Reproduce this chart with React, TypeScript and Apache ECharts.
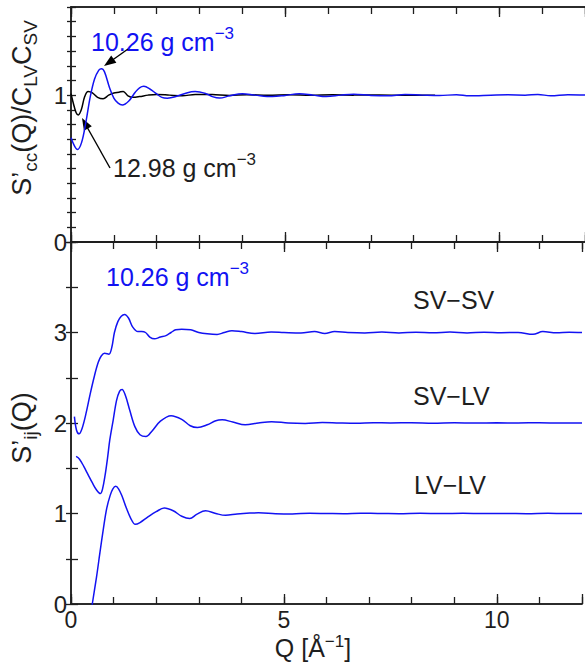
import React, { useEffect, useRef } from "react";
import * as echarts from "echarts";

// ---------- data ----------
// Top panel: S'cc(Q)/(C_LV C_SV)
const scc1298: [number, number][] = [
  [0, 1.01], [0.05, 0.95], [0.12, 0.88], [0.17, 0.865], [0.24, 0.9], [0.32, 0.99],
  [0.4, 1.025], [0.5, 1.015], [0.62, 0.985], [0.75, 0.975], [0.88, 1.0], [1.0, 1.015],
  [1.12, 1.02], [1.22, 1.025], [1.33, 0.995], [1.45, 0.985], [1.6, 0.99], [1.8, 1.0],
  [2.0, 1.005], [2.3, 1.0], [2.6, 0.995], [2.9, 1.005], [3.3, 1.004], [3.7, 0.998],
  [4.1, 1.003], [4.6, 0.999], [5.1, 1.002], [5.6, 0.999], [6.1, 1.002], [6.6, 1.0],
  [7.2, 1.001], [7.8, 0.999], [8.5, 1.0],
];
const scc1026: [number, number][] = [
  [0, 0.71], [0.08, 0.655], [0.15, 0.63], [0.25, 0.68], [0.35, 0.82], [0.45, 0.99],
  [0.55, 1.11], [0.65, 1.17], [0.71, 1.18], [0.78, 1.16], [0.9, 1.05], [1.0, 0.98],
  [1.1, 0.945], [1.2, 0.933], [1.35, 0.96], [1.5, 1.02], [1.6, 1.05], [1.7, 1.06],
  [1.85, 1.04], [2.0, 1.008], [2.12, 0.985], [2.25, 0.979], [2.45, 0.99], [2.7, 1.015],
  [2.9, 1.024], [3.15, 1.01], [3.3, 0.99], [3.47, 0.98], [3.7, 0.995], [4.0, 1.01],
  [4.3, 1.0], [4.7, 0.99], [5.0, 0.998], [5.33, 1.01], [5.65, 1.0], [5.96, 0.99],
  [6.3, 1.0], [6.6, 1.006], [7.0, 0.998], [7.4, 0.995], [7.8, 1.004], [8.2, 1.0],
  [8.6, 0.997], [9.0, 1.003], [9.3, 0.995], [9.8, 0.999], [10.2, 1.002], [10.6, 1.0],
  [10.9, 1.005], [11.2, 0.995], [11.6, 1.002], [12, 1.0],
];

// Bottom panel: S'ij(Q), offset curves
const svsv: [number, number][] = [
  [0.08, 2.07], [0.13, 1.92], [0.19, 1.88], [0.26, 1.94], [0.35, 2.1], [0.45, 2.32],
  [0.55, 2.52], [0.64, 2.67], [0.71, 2.74], [0.79, 2.77], [0.89, 2.76], [0.96, 2.84],
  [1.02, 3.0], [1.1, 3.12], [1.18, 3.18], [1.26, 3.2], [1.35, 3.16], [1.45, 3.06],
  [1.57, 3.01], [1.66, 3.01], [1.75, 3.0], [1.85, 2.95], [1.96, 2.93], [2.1, 2.95],
  [2.23, 2.965], [2.35, 3.0], [2.46, 3.03], [2.6, 3.035], [2.81, 3.03], [3.0, 3.0],
  [3.2, 2.985], [3.43, 2.978], [3.6, 3.0], [3.78, 3.02], [4.0, 3.01], [4.32, 2.99],
  [4.7, 3.005], [5.0, 3.0], [5.4, 2.995], [5.72, 3.01], [5.96, 2.99], [6.19, 3.01],
  [6.5, 3.0], [6.9, 2.995], [7.3, 3.005], [7.7, 2.995], [8.1, 3.003], [8.5, 2.997],
  [8.9, 3.005], [9.3, 2.995], [9.7, 3.004], [10.1, 2.998], [10.5, 3.0], [10.85, 2.98],
  [11.08, 3.01], [11.4, 2.998], [11.7, 3.003], [12, 3.0],
];
const svlv: [number, number][] = [
  [0.12, 1.63], [0.2, 1.6], [0.3, 1.52], [0.4, 1.43], [0.5, 1.34], [0.6, 1.26],
  [0.69, 1.22], [0.74, 1.27], [0.8, 1.42], [0.86, 1.62], [0.91, 1.81], [0.99, 2.03],
  [1.07, 2.25], [1.14, 2.35], [1.2, 2.37], [1.28, 2.3], [1.38, 2.14], [1.5, 1.96],
  [1.62, 1.87], [1.76, 1.85], [1.9, 1.91], [2.1, 2.02], [2.35, 2.08], [2.6, 2.04],
  [2.8, 1.97], [2.97, 1.95], [3.2, 1.98], [3.4, 2.025], [3.55, 2.035], [3.8, 2.01],
  [4.09, 1.98], [4.4, 2.0], [4.71, 2.015], [5.1, 2.0], [5.5, 1.995], [5.9, 2.005],
  [6.3, 2.0], [6.7, 1.997], [7.1, 2.003], [7.5, 2.0], [8.0, 2.003], [8.5, 1.998],
  [9.0, 2.002], [9.5, 1.999], [10, 2.002], [10.5, 2.0], [11, 2.003], [11.5, 1.999],
  [12, 2.0],
];
const lvlv: [number, number][] = [
  [0.3, -0.7], [0.4, -0.33], [0.5, 0.0], [0.6, 0.3], [0.68, 0.57], [0.76, 0.83],
  [0.84, 1.06], [0.92, 1.2], [0.98, 1.27], [1.05, 1.3], [1.12, 1.27], [1.2, 1.19],
  [1.3, 1.06], [1.4, 0.95], [1.51, 0.88], [1.62, 0.9], [1.8, 0.96], [2.0, 1.02],
  [2.19, 1.06], [2.4, 1.03], [2.6, 0.97], [2.79, 0.945], [2.95, 0.99], [3.16, 1.03],
  [3.4, 1.0], [3.63, 0.98], [3.9, 0.995], [4.2, 1.005], [4.4, 1.007], [4.8, 0.998],
  [5.2, 0.995], [5.6, 1.003], [6.0, 1.0], [6.4, 0.997], [6.8, 1.003], [7.2, 1.0],
  [7.7, 0.998], [8.2, 1.002], [8.7, 0.999], [9.2, 1.002], [9.7, 0.999], [10.2, 1.001],
  [10.7, 0.998], [11.2, 1.002], [11.6, 0.999], [12, 1.0],
];

const Q_MIN = 0;
const Q_MAX = 12;
const Q_LABELS = [0, 5, 10];
const TOP_Y_LABELS = [0, 1];
const BOTTOM_Y_LABELS = [0, 1, 2, 3];

const BLUE = "#1212f2";
const INK = "#1e1e1e";
const FONT = "'Liberation Sans', Arial, Helvetica, sans-serif";

function arrow(tip: number[], tail: number[], color: string) {
  const dx = tip[0] - tail[0];
  const dy = tip[1] - tail[1];
  const len = Math.hypot(dx, dy);
  const ux = dx / len;
  const uy = dy / len;
  const hl = 12;
  const hw = 4.5;
  const bx = tip[0] - ux * hl;
  const by = tip[1] - uy * hl;
  return [
    {
      type: "line",
      shape: { x1: tail[0], y1: tail[1], x2: bx + ux * 2, y2: by + uy * 2 },
      style: { stroke: color, lineWidth: 1.4 },
    },
    {
      type: "polygon",
      shape: {
        points: [
          [tip[0], tip[1]],
          [bx - uy * hw, by + ux * hw],
          [bx + uy * hw, by - ux * hw],
        ],
      },
      style: { fill: color },
    },
  ];
}

function richText(
  text: string,
  x: number,
  y: number,
  color: string,
  align = "left",
  rotation = 0,
  lineHeight = 34,
  mainSize = 25,
  smallSize = 17
) {
  const rich: any = {
    m: { fontSize: mainSize, lineHeight, fontFamily: FONT, verticalAlign: "middle", fill: color, color },
    sub: { fontSize: smallSize, lineHeight: smallSize, fontFamily: FONT, verticalAlign: "bottom", fill: color, color },
    sup: { fontSize: smallSize, lineHeight: smallSize, fontFamily: FONT, verticalAlign: "top", fill: color, color },
  };
  return {
    type: "text",
    x,
    y,
    rotation,
    style: {
      text,
      rich,
      fill: color,
      font: `${mainSize}px ${FONT}`,
      align,
      verticalAlign: "middle",
      textAlign: align,
      textVerticalAlign: "middle",
    },
  };
}

function plainText(text: string, x: number, y: number, color: string) {
  return {
    type: "text",
    x,
    y,
    style: {
      text,
      fill: color,
      font: `25px ${FONT}`,
      align: "left",
      verticalAlign: "middle",
      textAlign: "left",
      textVerticalAlign: "middle",
    },
  };
}

const near = (v: number, list: number[]) => list.some((t) => Math.abs(v - t) < 1e-6);

const axisLine = { show: true, lineStyle: { color: INK, width: 1.5 } };

function xAx(gridIndex: number, position: string, interval: number, tickLen: number, labels: boolean) {
  return {
    type: "value",
    gridIndex,
    position,
    min: Q_MIN,
    max: Q_MAX,
    interval,
    axisLine,
    axisTick: { show: true, inside: true, length: tickLen, lineStyle: { color: INK, width: 1.3 } },
    axisLabel: {
      show: labels,
      margin: 4,
      fontSize: 23,
      fontFamily: FONT,
      color: INK,
      formatter: (v: number) => (near(v, Q_LABELS) ? String(Math.round(v)) : ""),
    },
    splitLine: { show: false },
  };
}

function yAx(
  gridIndex: number,
  position: string,
  max: number,
  interval: number,
  tickLen: number,
  labelList: number[] | null
) {
  return {
    type: "value",
    gridIndex,
    position,
    min: 0,
    max,
    interval,
    axisLine,
    axisTick: { show: true, inside: true, length: tickLen, lineStyle: { color: INK, width: 1.3 } },
    axisLabel: {
      show: !!labelList,
      margin: 4,
      fontSize: 24,
      fontFamily: FONT,
      color: INK,
      formatter: (v: number) => (labelList && near(v, labelList) ? String(Math.round(v)) : ""),
    },
    splitLine: { show: false },
  };
}

function lineSeries(name: string, data: [number, number][], color: string, xi: number, yi: number) {
  return {
    name,
    type: "line",
    data,
    xAxisIndex: xi,
    yAxisIndex: yi,
    smooth: 0.35,
    symbol: "none",
    clip: true,
    lineStyle: { color, width: 1.5 },
    emphasis: { disabled: true },
  };
}

export default function App() {
  const ref = useRef<HTMLDivElement>(null);
  useEffect(() => {
    if (!ref.current) return;
    const chart = echarts.init(ref.current, null, { renderer: "svg" });
    const option: any = {
      animation: false,
      backgroundColor: "#ffffff",
      textStyle: { fontFamily: FONT },
      grid: [
        { left: 71, top: 7, width: 515, height: 235 },
        { left: 71, top: 242, width: 515, height: 362 },
      ],
      xAxis: [
        xAx(0, "bottom", 1, 7, false),
        xAx(0, "bottom", 5, 10, false),
        xAx(0, "top", 1, 7, false),
        xAx(0, "top", 5, 10, false),
        xAx(1, "bottom", 1, 7, false),
        xAx(1, "bottom", 5, 10, true),
        xAx(1, "top", 1, 7, false),
        xAx(1, "top", 5, 10, false),
      ],
      yAxis: [
        yAx(0, "left", 1.6, 0.1, 5, TOP_Y_LABELS),
        yAx(0, "right", 1.6, 0.1, 4, null),
        yAx(1, "left", 4, 0.5, 7, BOTTOM_Y_LABELS),
        yAx(1, "right", 4, 0.5, 5, null),
      ],
      series: [
        lineSeries("12.98 g cm-3", scc1298, "#000000", 0, 0),
        lineSeries("10.26 g cm-3", scc1026, BLUE, 0, 0),
        lineSeries("LV-LV", lvlv, BLUE, 4, 2),
        lineSeries("SV-LV", svlv, BLUE, 4, 2),
        lineSeries("SV-SV", svsv, BLUE, 4, 2),
      ],
      graphic: [
        richText("{m|S’}{sub|cc}{m|(Q)/C}{sub|LV}{m|C}{sub|SV}", 22, 108, INK, "center", Math.PI / 2, 36, 27, 19),
        richText("{m|S’}{sub|ij}{m|(Q)}", 22, 428, INK, "center", Math.PI / 2, 36, 27, 19),
        richText("{m|Q [Å}{sup|−1}{m|]}", 313, 648, INK, "center", 0, 30),
        richText("{m|10.26 g cm}{sup|−3}", 91, 42, BLUE),
        richText("{m|12.98 g cm}{sup|−3}", 113, 168, INK),
        richText("{m|10.26 g cm}{sup|−3}", 106, 277, BLUE),
        plainText("SV−SV", 413, 300, INK),
        plainText("SV−LV", 413, 396, INK),
        plainText("LV−LV", 414, 485, INK),
        ...arrow([104, 66], [128, 49], "#000000"),
        ...arrow([82, 118], [110, 168], "#000000"),
      ],
    };
    chart.setOption(option);
    return () => chart.dispose();
  }, []);
  return (
    <div
      ref={ref}
      style={{ position: "fixed", left: 0, top: 0, width: 585, height: 664, background: "#fff" }}
    />
  );
}
